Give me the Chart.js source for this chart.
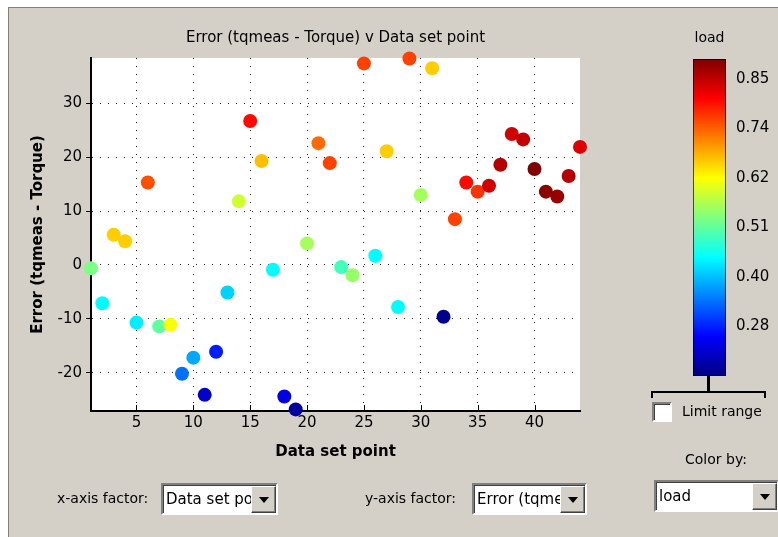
<!DOCTYPE html>
<html>
<head>
<meta charset="utf-8">
<title>Error v Data set point</title>
<script src="https://cdn.jsdelivr.net/npm/chart.js@4.4.1/dist/chart.umd.min.js"></script>
<style>
  body { margin: 0; width: 778px; height: 537px; background: #fff; overflow: hidden;
         font-family: "DejaVu Sans", sans-serif; color: #000; position: relative; }
  #panel { position: absolute; left: 8px; top: 7px; right: 0; bottom: 0; background: #d4d0c8;
           border-left: 1px solid #808080; border-top: 1px solid #808080; }
  canvas { position: absolute; }
  #mainChart { left: 0; top: 0; }
  #barChart { left: 640px; top: 20px; }
  .lbl { position: absolute; font-size: 14px; line-height: 18px; white-space: nowrap; }
  .combo { position: absolute; box-sizing: border-box; background: #fff; height: 32px;
           border-top: 2px solid #808080; border-left: 2px solid #808080;
           border-bottom: 2px solid #fff; border-right: 2px solid #fff;
           box-shadow: inset 1px 1px 0 #404040; overflow: hidden; }
  .combo .txt { position: absolute; left: 3px; top: 5px; font-size: 15px; line-height: 18px; white-space: nowrap; }
  .combo .btn { position: absolute; right: 0; top: 1px; bottom: 0; width: 25px; box-sizing: border-box;
                background: #d4d0c8; border-top: 1px solid #fff; border-left: 1px solid #fff;
                border-bottom: 1px solid #404040; border-right: 1px solid #404040;
                box-shadow: inset -1px -1px 0 #808080; }
  .combo .btn:after { content: ""; position: absolute; left: 7px; top: 10px;
                      border-left: 5px solid transparent; border-right: 5px solid transparent;
                      border-top: 6px solid #000; }
  #check { position: absolute; left: 652px; top: 402px; width: 20px; height: 20px; box-sizing: border-box;
           background: #fff; border-top: 2px solid #808080; border-left: 2px solid #808080;
           border-bottom: 2px solid #fff; border-right: 2px solid #fff; box-shadow: inset 1px 1px 0 #404040; }
  #stem { position: absolute; left: 707px; top: 376px; width: 3px; height: 16px; background: #000; }
  #bracket { position: absolute; left: 651px; top: 391px; width: 115px; height: 7px; box-sizing: border-box;
             border-top: 2px solid #000; border-left: 2px solid #000; border-right: 2px solid #000; }
</style>
</head>
<body>
<div id="panel"></div>
<canvas id="mainChart" width="630" height="537"></canvas>
<canvas id="barChart" width="138" height="370"></canvas>

<div id="stem"></div>
<div id="bracket"></div>
<div id="check"></div>
<div class="lbl" style="left:682px; top:402px; font-size:14px;">Limit range</div>

<div class="lbl" style="left:685px; top:450px;">Color by:</div>
<div class="combo" style="left:654px; top:480px; width:125px;"><span class="txt">load</span><span class="btn"></span></div>

<div class="lbl" style="left:57px; top:489px;">x-axis factor:</div>
<div class="combo" style="left:161px; top:483px; width:117px;"><span class="txt">Data set point</span><span class="btn"></span></div>

<div class="lbl" style="left:365px; top:489px;">y-axis factor:</div>
<div class="combo" style="left:472px; top:483px; width:115px;"><span class="txt">Error (tqmeas - Torque)</span><span class="btn"></span></div>

<script>
// Data
const dataSetPoints = [1, 2, 3, 4, 5, 6, 7, 8, 9, 10, 11, 12, 13, 14, 15, 16, 17, 18, 19, 20, 21, 22,
                       23, 24, 25, 26, 27, 28, 29, 30, 31, 32, 33, 34, 35, 36, 37, 38, 39, 40, 41, 42, 43, 44];
const errorValues = [-0.6, -7.1, 5.6, 4.4, -10.7, 15.3, -11.4, -11.1, -20.2, -17.2, -24.1, -16.1, -5.1, 11.8,
                     26.7, 19.3, -0.9, -24.4, -26.8, 4.0, 22.6, 18.9, -0.4, -1.9, 37.4, 1.7, 21.1, -7.8,
                     38.3, 13.0, 36.5, -9.6, 8.5, 15.3, 13.6, 14.7, 18.6, 24.3, 23.3, 17.8, 13.6, 12.7, 16.5, 21.9];
const loadValues = [0.53, 0.44, 0.66, 0.66, 0.43, 0.75, 0.51, 0.62, 0.34, 0.38, 0.22, 0.28, 0.41, 0.59,
                    0.80, 0.67, 0.44, 0.24, 0.19, 0.56, 0.73, 0.76, 0.49, 0.55, 0.76, 0.44, 0.66, 0.44,
                    0.76, 0.56, 0.66, 0.18, 0.76, 0.80, 0.77, 0.84, 0.86, 0.84, 0.85, 0.90, 0.89, 0.88, 0.86, 0.83];

// Axis ranges and ticks
const xRange = [1, 44];
const yRange = [-27.1, 38.4];
const xTicks = [5, 10, 15, 20, 25, 30, 35, 40];
const yTicks = [-20, -10, 0, 10, 20, 30];
const loadRange = [0.168, 0.898];
const loadTicks = [0.2826, 0.3966, 0.5106, 0.6246, 0.7386, 0.8526];

const FONT = '"DejaVu Sans", sans-serif';

// Jet colormap: dark blue -> blue -> cyan -> yellow -> red -> dark red
const jetStops = [
  [0, '#000080'], [0.125, '#0000ff'], [0.375, '#00ffff'],
  [0.625, '#ffff00'], [0.875, '#ff0000'], [1, '#800000']
];

function jetColor(value) {
  let t = (value - loadRange[0]) / (loadRange[1] - loadRange[0]);
  t = Math.max(0, Math.min(1, t));
  const clamp = v => Math.round(255 * Math.max(0, Math.min(1, v)));
  const r = clamp(1.5 - Math.abs(4 * t - 3));
  const g = clamp(1.5 - Math.abs(4 * t - 2));
  const b = clamp(1.5 - Math.abs(4 * t - 1));
  return `rgb(${r}, ${g}, ${b})`;
}

// White plot background + inward tick marks on the x axis
const plotFrame = {
  id: 'plotFrame',
  beforeDraw(chart) {
    const { ctx, chartArea } = chart;
    ctx.save();
    ctx.fillStyle = '#ffffff';
    ctx.fillRect(chartArea.left, chartArea.top, chartArea.right - chartArea.left, chartArea.bottom - chartArea.top);
    ctx.restore();
  },
  beforeDatasetsDraw(chart) {
    const { ctx, chartArea } = chart;
    const xs = chart.scales.x;
    ctx.save();
    ctx.strokeStyle = '#000';
    ctx.lineWidth = 1;
    xTicks.forEach(v => {
      const px = Math.round(xs.getPixelForValue(v)) + 0.5;
      ctx.beginPath();
      ctx.moveTo(px, chartArea.bottom);
      ctx.lineTo(px, chartArea.bottom - 6);
      ctx.stroke();
    });
    ctx.restore();
  }
};

const mainChart = new Chart(document.getElementById('mainChart'), {
  type: 'scatter',
  data: {
    datasets: [{
      data: dataSetPoints.map((x, i) => ({ x: x, y: errorValues[i] })),
      pointRadius: 7,
      pointHoverRadius: 7,
      pointBorderWidth: 0,
      pointBackgroundColor: loadValues.map(jetColor),
      clip: false
    }]
  },
  options: {
    responsive: false,
    animation: false,
    layout: { padding: { left: 0, right: 50, top: 0, bottom: 70 } },
    plugins: {
      legend: { display: false },
      tooltip: { enabled: false },
      title: {
        display: true,
        fullSize: false,
        text: 'Error (tqmeas - Torque) v Data set point',
        color: '#000',
        font: { family: FONT, size: 15, weight: 'normal' },
        padding: { top: 29, bottom: 11 }
      }
    },
    scales: {
      x: {
        type: 'linear',
        min: xRange[0],
        max: xRange[1],
        afterBuildTicks: scale => { scale.ticks = xTicks.map(v => ({ value: v })); },
        afterFit: scale => { scale.height = 56; },
        ticks: { color: '#000', font: { family: FONT, size: 15 }, padding: 3 },
        grid: { color: '#222', lineWidth: 1, drawTicks: false },
        border: { display: true, color: '#000', width: 2, dash: [1, 7] },
        title: {
          display: true,
          text: 'Data set point',
          color: '#000',
          font: { family: FONT, size: 15, weight: 'bold' },
          padding: { top: 0, bottom: 6 }
        }
      },
      y: {
        type: 'linear',
        min: yRange[0],
        max: yRange[1],
        afterBuildTicks: scale => { scale.ticks = yTicks.map(v => ({ value: v })); },
        afterFit: scale => { scale.width = 91; },
        ticks: { color: '#000', font: { family: FONT, size: 15 }, padding: 4 },
        grid: { color: '#222', lineWidth: 1, tickLength: 5, tickColor: '#000' },
        border: { display: true, color: '#000', width: 2, dash: [1, 7] },
        title: {
          display: true,
          text: 'Error (tqmeas - Torque)',
          color: '#000',
          font: { family: FONT, size: 15, weight: 'bold' },
          padding: { top: 29, bottom: 0 }
        }
      }
    }
  },
  plugins: [plotFrame]
});

// Colour bar for "load"
const colorBar = new Chart(document.getElementById('barChart'), {
  type: 'bar',
  data: {
    labels: ['load'],
    datasets: [{
      data: [loadRange],
      barPercentage: 1,
      categoryPercentage: 1,
      borderColor: '#000',
      borderWidth: 1,
      borderSkipped: false,
      backgroundColor: function(context) {
        const chart = context.chart;
        if (!chart.chartArea) return null;
        const ys = chart.scales.y;
        const grad = chart.ctx.createLinearGradient(0, ys.getPixelForValue(loadRange[0]), 0, ys.getPixelForValue(loadRange[1]));
        jetStops.forEach(s => grad.addColorStop(s[0], s[1]));
        return grad;
      }
    }]
  },
  options: {
    responsive: false,
    animation: false,
    layout: { padding: { left: 53, right: 0, top: 0, bottom: 14 } },
    plugins: {
      legend: { display: false },
      tooltip: { enabled: false },
      title: {
        display: true,
        fullSize: false,
        text: 'load',
        color: '#000',
        font: { family: FONT, size: 14, weight: 'normal' },
        padding: { top: 9.5, bottom: 12.7 }
      }
    },
    scales: {
      x: { display: false },
      y: {
        position: 'right',
        min: loadRange[0],
        max: loadRange[1],
        afterBuildTicks: scale => { scale.ticks = loadTicks.map(v => ({ value: v })); },
        afterFit: scale => { scale.width = 52; },
        ticks: {
          color: '#000',
          font: { family: FONT, size: 15 },
          padding: 2,
          callback: v => Number(v).toFixed(2)
        },
        grid: { display: false },
        border: { display: false }
      }
    }
  }
});
</script>
</body>
</html>
